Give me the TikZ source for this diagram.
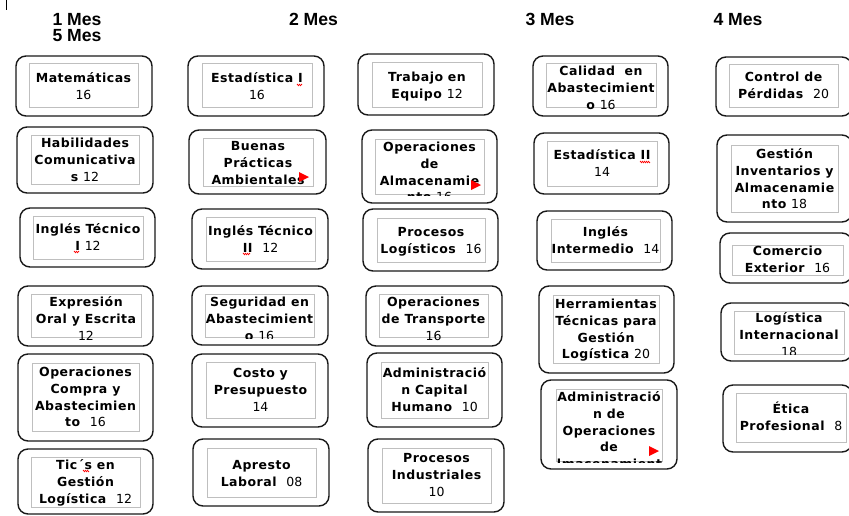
\documentclass[tikz,border=0pt]{standalone}
\usepackage{fontspec}
\setmainfont{DejaVu Sans}[BoldFeatures={LetterSpace=4}]
\newfontfamily\hdrfont{Liberation Sans}
\usetikzlibrary{calc,decorations.pathmorphing}
\newcommand\nro[1]{{\mdseries #1}}
\tikzset{
  obox/.style={draw=black!90, line width=1.4pt, rounded corners=10pt},
  ibox/.style={draw=black!25, line width=0.8pt},
  txt/.style={font=\fontsize{12.5}{16.7}\selectfont\bfseries, align=center, inner sep=0pt, anchor=north},
  hdr/.style={font=\hdrfont\fontsize{17.6}{16}\selectfont\bfseries, align=center, inner sep=0pt, anchor=north},
  flag/.style={fill=red, draw=none},
  squig/.style={draw=red, line width=0.6pt, decorate, decoration={zigzag, amplitude=0.8pt, segment length=2pt}}
}
% [clip extension], name, outer corner 1, outer corner 2, inner corner 1, inner corner 2, top y of text, text
\newcommand\curso[8][1]{%
  \draw[obox] (#3) rectangle (#4);
  \draw[ibox] (#5) rectangle (#6);
  \coordinate (#2c) at ($(#5)!0.5!(#6)$);
  \begin{scope}
    \clip (#5) rectangle ($(#6)+(0,#1)$);
    \node[txt] (#2) at (#2c |- 0,#7) {\strut #8};
  \end{scope}}
\begin{document}
\begin{tikzpicture}[x=1pt, y=-1pt]
\useasboundingbox (0,0) rectangle (849,515);
\clip (0,0) rectangle (849,515);
\fill[white] (0,0) rectangle (849,515);
\draw[line width=0.8pt] (6,0) -- (6,10);
% headers
\node[hdr] (h1) at (77,13) {1 Mes\\5 Mes};
\node[hdr] (h2) at (313.5,13) {2 Mes};
\node[hdr] (h3) at (550,13) {3 Mes};
\node[hdr] (h4) at (738,13) {4 Mes};
% column 1
\curso{mat}{16,56}{152,116}{29,63}{138,107}{70.9}{Matemáticas\\\nro{16}}
\curso{hab}{17,127}{153,193}{31,135}{139,184}{135.9}{Habilidades\\Comunicativa\\s \nro{12}}
\curso{ingA}{20,208}{155,267}{33,216}{143,259}{221.9}{Inglés Técnico\\I \nro{12}}
\curso[3]{exp}{18,286}{153,346}{31,294}{141,337}{294.9}{Expresión\\Oral y Escrita\\\nro{12}}
\curso{opc}{18,354}{153,441}{32,363}{139,431}{364.9}{Operaciones\\Compra y\\Abastecimien\\to \ \nro{16}}
\curso{tic}{18,449}{153,514}{31,457}{140,507}{457.9}{Tic´s en\\Gestión\\Logística \ \nro{12}}
% column 2
\curso{estA}{188,56}{324,116}{202,63}{312,107}{70.9}{Estadística I\\\nro{16}}
\curso{bue}{189,130}{326,194}{203,138}{313,186}{138.9}{Buenas\\Prácticas\\Ambientales}
\curso{ingB}{192,209}{328,269}{206,217}{315,261}{223.9}{Inglés Técnico\\II \ \nro{12}}
\curso{seg}{192,286}{328,345}{205,294}{314,337}{294.9}{Seguridad en\\Abastecimient\\o \nro{16}}
\curso{cos}{192,354}{328,427}{206,362}{315,418}{365.9}{Costo y\\Presupuesto\\\nro{14}}
\curso{apr}{193,439}{329,506}{207,448}{316,497}{457.9}{Apresto\\Laboral \ \nro{08}}
% column 3
\curso{tra}{358,54}{494,115}{372,62}{482,107}{69.9}{Trabajo en\\Equipo \nro{12}}
\curso{opa}{362,130}{497,203}{375,139}{484,194}{139.9}{Operaciones\\de\\Almacenamie\\nto \nro{16}}
\curso{prl}{363,209}{498,271}{377,218}{485,262}{224.9}{Procesos\\Logísticos \ \nro{16}}
\curso[3]{opt}{366,286}{502,346}{379,294}{488,337}{294.9}{Operaciones\\de Transporte\\\nro{16}}
\curso{adh}{367,353}{502,427}{381,362}{488,418}{365.9}{Administració\\n Capital\\Humano \ \nro{10}}
\curso{pri}{368,439}{504,512}{382,448}{491,503}{450.9}{Procesos\\Industriales\\\nro{10}}
% column 4
\curso[4]{cal}{533,56}{668,116}{546,63}{656,107}{63.9}{Calidad \ en\\Abastecimient\\o \nro{16}}
\curso{estB}{534,133}{669,194}{547,141}{657,186}{147.9}{Estadística II\\\nro{14}}
\curso{ingi}{537,211}{672,270}{551,219}{660,262}{224.9}{Inglés\\Intermedio \ \nro{14}}
\curso{her}{539,286}{674,373}{553,295}{659,363}{296.9}{Herramientas\\Técnicas para\\Gestión\\Logística \nro{20}}
\curso{ado}{541,380}{677,469}{556,389}{662,461}{389.9}{Administració\\n de\\Operaciones\\de\\Almacenamiento}
% column 5
\curso{con}{716,57}{852,116}{729,64}{838,107}{69.9}{Control de\\Pérdidas \ \nro{20}}
\curso{gin}{717,135}{852,222}{731,145}{838,212}{146.9}{Gestión\\Inventarios y\\Almacenamie\\nto \nro{18}}
\curso{com}{720,233}{852,283}{732,245}{843,275}{243.9}{Comercio\\Exterior \ \nro{16}}
\curso[0]{log}{721,303}{852,361}{734,311}{844,354}{310.9}{Logística\\Internacional\\\nro{18}}
\curso{eti}{723,385}{852,452}{736,393}{846,442}{401.9}{Ética\\Profesional \ \nro{8}}
% overflow flags
\fill[flag] (299,172) -- (299,182) -- (309,177) -- cycle;
\fill[flag] (471,180) -- (471,190) -- (481,185) -- cycle;
\fill[flag] (649,446) -- (649,456) -- (659,451) -- cycle;
% spelling marks
\draw[squig] (74,252) -- (79,252);
\draw[squig] (297,85) -- (302,85);
\draw[squig] (243,254) -- (250,254);
\draw[squig] (640,162) -- (650,162);
\draw[squig] (83,471) -- (89,471);
\end{tikzpicture}
\end{document}
